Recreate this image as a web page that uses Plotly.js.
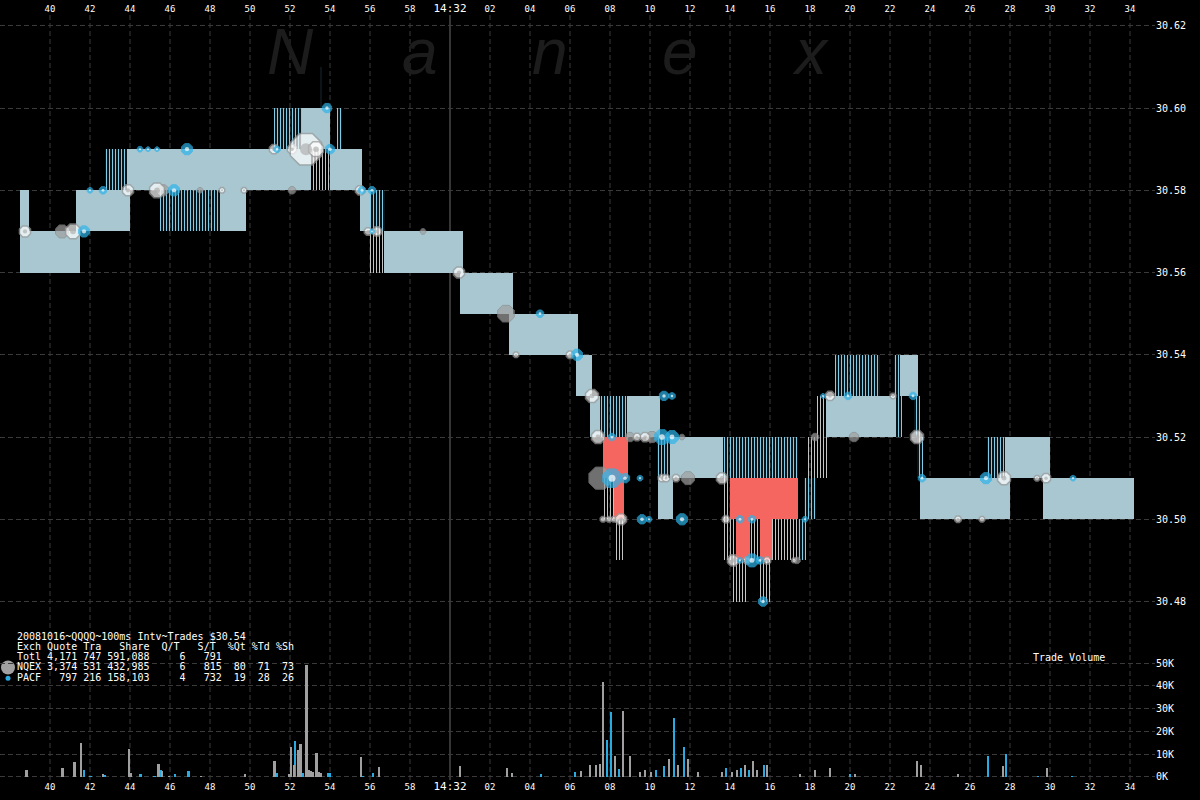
<!DOCTYPE html>
<html><head><meta charset="utf-8">
<script src="https://cdn.plot.ly/plotly-3.0.1.min.js"></script>
<style>html,body{margin:0;padding:0;background:#000;}#chart{width:1200px;height:800px;}</style>
</head><body><div id="chart"></div>
<script>
// ---- time axis (seconds after 14:31:00) ----
const tickVals = [40,42,44,46,48,50,52,54,56,58,60,62,64,66,68,70,72,74,76,78,80,82,84,86,88,90,92,94];
const tickText = ['40','42','44','46','48','50','52','54','56','58','14:32','02','04','06','08','10','12','14','16','18','20','22','24','26','28','30','32','34'];
const minuteMark = 60;
const priceTicks = [30.48,30.50,30.52,30.54,30.56,30.58,30.60,30.62];
const volTicks = [0,10000,20000,30000,40000,50000];
const volTickText = ['0K','10K','20K','30K','40K','50K'];

// ---- quote bands: start, end, low, high, kind (S solid, B blue stripes, G grey stripes, R red/crossed) ----
const qStart = [38.5,38.5,41.3,42.75,43.85,54.0,53.05,45.5,48.5,51.2,52.6,54.35,53.5,55.5,56.0,55.9,56.7,60.5,62.95,66.3,67.0,67.5,68.85,67.65,67.6,68.2,68.2,70.35,70.4,71.0,73.65,73.65,73.65,74.0,74.3,75.0,75.5,76.1,74.15,75.5,77.4,77.7,77.9,78.3,78.8,82.3,79.25,82.2,82.5,83.2,83.35,83.5,86.85,87.75,89.65];
const qEnd   = [38.95,41.5,44.0,43.85,53.05,55.6,54.0,48.5,49.8,52.6,54.0,54.6,53.6,56.0,56.75,56.7,60.65,63.15,66.4,67.1,67.5,68.85,70.5,68.9,68.2,68.7,68.65,71.0,71.15,73.65,77.4,74.0,74.3,77.4,75.0,75.5,76.1,77.4,74.9,76.05,77.8,78.3,78.85,78.8,82.3,82.6,81.5,82.5,83.4,83.5,83.65,88.0,87.75,90.0,94.2];
const qLow   = [30.57,30.56,30.57,30.58,30.58,30.58,30.58,30.57,30.57,30.59,30.59,30.59,30.60,30.57,30.57,30.56,30.56,30.55,30.54,30.53,30.52,30.52,30.52,30.51,30.50,30.50,30.49,30.51,30.50,30.51,30.51,30.50,30.49,30.50,30.49,30.49,30.49,30.49,30.48,30.48,30.49,30.50,30.51,30.52,30.52,30.52,30.53,30.53,30.53,30.52,30.51,30.50,30.51,30.51,30.50];
const qHigh  = [30.58,30.57,30.58,30.59,30.59,30.59,30.59,30.58,30.58,30.60,30.60,30.60,30.61,30.58,30.58,30.57,30.57,30.56,30.55,30.54,30.53,30.53,30.53,30.52,30.51,30.51,30.50,30.52,30.51,30.52,30.52,30.51,30.50,30.51,30.50,30.50,30.50,30.50,30.49,30.49,30.50,30.51,30.52,30.53,30.53,30.53,30.54,30.54,30.54,30.53,30.52,30.51,30.52,30.52,30.51];
const qKind  = ['S','S','S','B','S','S','G','B','S','B','S','B','B','S','B','G','S','S','S','S','S','B','S','R','G','R','G','B','S','S','B','G','G','R','R','G','R','G','G','G','B','B','G','G','S','B','B','B','S','B','B','S','B','S','S'];

// ---- trades: time, price, marker size, exchange (N NQEX grey, P PACF blue, O other white) ----
const trT = [38.75,40.6,41.15,41.7, 42.0,42.65,43.9,45.35,45.65,46.2,47.5,48.6,49.7,52.1,55.5,55.6,56.1, 44.5,44.9,45.35,46.85,51.2,51.35,52.1,52.8,53.3,54.0, 53.85, 55.9,56.1,56.35,58.65, 60.45, 62.8,64.5, 63.3,66.0,66.35, 67.1, 67.4,68.1,69.0,69.35,69.75,70.1,70.6,71.1,71.6, 70.7,71.1, 67.5,68.1,68.75,69.5,70.6,70.8,71.3,71.9,73.6, 67.65,67.95,68.2,68.55,69.6,69.95,71.6,73.8,74.5,75.1,77.75, 74.15,74.5,74.85,75.1,75.5,75.85,77.2,77.35, 75.65, 78.25,80.2,83.35, 78.65,79.0,79.9,82.15,83.15, 83.6,86.8,87.7,89.35,89.8,91.15, 85.4,86.6];
const trP = [30.57,30.57,30.57,30.57, 30.58,30.58,30.58,30.58,30.58,30.58,30.58,30.58,30.58,30.58,30.58,30.58,30.58, 30.59,30.59,30.59,30.59,30.59,30.59,30.59,30.59,30.59,30.59, 30.60, 30.57,30.57,30.57,30.57, 30.56, 30.55,30.55, 30.54,30.54,30.54, 30.53, 30.52,30.52,30.52,30.52,30.52,30.52,30.52,30.52,30.52, 30.53,30.53, 30.51,30.51,30.51,30.51,30.51,30.51,30.51,30.51,30.51, 30.50,30.50,30.50,30.50,30.50,30.50,30.50,30.50,30.50,30.50,30.50, 30.49,30.49,30.49,30.49,30.49,30.49,30.49,30.49, 30.48, 30.52,30.52,30.52, 30.53,30.53,30.53,30.53,30.53, 30.51,30.51,30.51,30.51,30.51,30.51, 30.50,30.50];
const trS = [12,14,16,12, 6,8,12,16,12,12,6,6,6,8,10,8,8, 6,5,5,12,10,7,10,34,16,10, 10, 8,5,10,6, 12, 18,8, 6,8,12, 14, 14,8,10,8,10,12,16,14,6, 10,7, 24,20,10,6,8,8,8,14,12, 6,6,6,12,10,6,12,8,8,8,6, 12,6,8,14,8,8,5,7, 10, 8,10,14, 5,10,8,6,8, 8,12,14,6,10,6, 7,6];
const trX = ['O','N','O','P', 'P','P','O','O','N','P','N','O','O','N','O','P','P', 'P','P','P','P','O','P','O','O','O','P', 'P', 'O','P','O','N', 'O', 'N','P', 'O','O','P', 'O', 'O','P','N','O','O','N','P','P','N', 'P','P', 'N','P','P','P','O','O','O','N','O', 'O','O','O','O','P','P','P','O','P','P','P', 'O','P','O','P','P','O','O','N', 'P', 'N','N','O', 'P','O','P','O','P', 'P','P','O','O','O','P', 'O','O'];

// ---- trade volume per 100ms interval ----
const vNT = [38.83,40.63,41.23,41.55,42.65,43.95,44.05,45.43,45.6,45.95,47.55,49.75,51.23,51.95,52.05,52.2,52.42,52.53,52.82,52.92,53.03,53.13,53.33,53.45,53.55,55.55,56.45, 60.5,62.85,63.1,66.55,67.0,67.3,67.5,67.65,68.25,68.65,69.0,69.5,69.75,70.05,70.95,71.4,71.9,72.4,73.6,74.1,74.35,74.75,75.15,75.35,75.85,77.5,78.25,79.0,80.25,83.35,83.55,85.4,87.65,89.85];
const vNV = [3000,3800,6300,14700,1000,12200,1500,5600,2300,300,300,1000,6900,1200,13200,5000,11800,14400,49200,3000,2500,2000,10300,2000,1500,8500,4400, 4500,4000,1500,2500,5000,5000,5500,41500,9000,29000,9000,2000,3000,2000,8000,5000,8000,2000,2000,2000,3000,5000,7000,3000,5000,1000,3000,4000,1000,7000,5000,1000,4500,4000];
const vPT = [41.7,42.03,42.73,44.52,45.23,45.53,46.25,46.93,51.33,52.25,52.62,53.92,54.0,55.63,56.15, 64.55,66.25,67.85,68.05,68.45,70.05,70.3,70.7,71.2,71.7,73.8,74.55,74.95,75.7,79.0,80.0,86.9,87.8,89.4,91.1];
const vPV = [2800,500,800,1000,500,3000,1200,2600,1500,15700,1500,1800,1500,300,1500, 1000,2000,16000,28500,3500,1000,3000,4500,26000,13000,4000,4000,3000,5000,1000,1000,9000,10000,500,500];

// ---- text ----
const headerLines = [
  '20081016~QQQQ~100ms Intv~Trades $30.54',
  'Exch Quote Tra   Share  Q/T   S/T  %Qt %Td %Sh',
  'Totl 4,171 747 591,088     6   791',
  'NQEX 3,374 531 432,985     6   815  80  71  73',
  'PACF   797 216 158,103     4   732  19  28  26'
];
const watermark = ['N','a','n','e','x'];
const volumeTitle = 'Trade Volume';
const legendExch = ['NQEX','PACF'];

// ================= build =================
const MONO = '"DejaVu Sans Mono", "Liberation Mono", monospace';
const GRID = '#3a3a3a';
const XR = [37.5, 95.25];

const kindStyle = {
  S: {color:'#c2c2c2', pattern:{shape:'|', fgcolor:'#8ccade', bgcolor:'#c4c4c4', size:2, solidity:0.5}},
  B: {color:'rgba(0,0,0,0)', pattern:{shape:'|', fgcolor:'#80cbe6', bgcolor:'rgba(0,0,0,0)', size:3, solidity:0.4}},
  G: {color:'rgba(0,0,0,0)', pattern:{shape:'|', fgcolor:'#c4c4c4', bgcolor:'rgba(0,0,0,0)', size:3, solidity:0.34}},
  R: {color:'#f4665f'}
};
const traces = [];
// vertical time grid across both panels (helper full-height axes)
const gx=[], gy=[];
tickVals.forEach(v => { if (v!==minuteMark) { gx.push(v,v,null); gy.push(0,1,null); } });
traces.push({x:gx, y:gy, xaxis:'x', yaxis:'y', mode:'lines', line:{color:GRID, width:1, dash:'5px,3px'},
  hoverinfo:'skip', showlegend:false, connectgaps:false});
traces.push({x:[minuteMark, minuteMark], y:[0,1], xaxis:'x', yaxis:'y', mode:'lines',
  line:{color:'#5a5a5a', width:1.2}, hoverinfo:'skip', showlegend:false});
traces.push({x:[37.9], y:[0.147], xaxis:'x', yaxis:'y', mode:'markers', name:legendExch[0],
  marker:{color:'#a0a0a0', size:14, line:{width:0}}, cliponaxis:false, showlegend:false});
traces.push({x:[37.9], y:[0.133], xaxis:'x', yaxis:'y', mode:'markers', name:legendExch[1],
  marker:{color:'#29abe2', size:5, line:{width:0}}, cliponaxis:false, showlegend:false});

['S','B','G','R'].forEach(k => {
  const xs=[], ws=[], bs=[], hs=[];
  qKind.forEach((kk,i) => { if (kk===k) {
    xs.push((qStart[i]+qEnd[i])/2); ws.push(qEnd[i]-qStart[i]);
    bs.push(qLow[i]); hs.push(+(qHigh[i]-qLow[i]).toFixed(4));
  }});
  const st = kindStyle[k];
  const m = {color:st.color, line:{width:0}};
  if (st.pattern) m.pattern = st.pattern;
  traces.push({type:'bar', x:xs, y:hs, base:bs, width:ws, xaxis:'x2', yaxis:'y2',
    marker:m, hoverinfo:'skip', showlegend:false});
});

const exStyle = {
  O:{color:'#ffffff', line:{color:'#9a9a9a', width:1.5}},
  N:{color:'#a0a0a0', line:{color:'#8a8a8a', width:1}},
  P:{color:'#2db4ea', line:{color:'#2db4ea', width:1}}
};
['N','O','P'].forEach(k => {
  const xs=[], ys=[], ss=[];
  trX.forEach((e,i)=>{ if(e===k){ xs.push(trT[i]); ys.push(trP[i]); ss.push(trS[i]); }});
  traces.push({type:'scatter', mode:'markers', x:xs, y:ys, xaxis:'x2', yaxis:'y2',
    marker:{symbol:'octagon', size:ss, color:exStyle[k].color, line:exStyle[k].line},
    hoverinfo:'skip', showlegend:false});
  if (k!=='N') {
    traces.push({type:'scatter', mode:'markers', x:xs, y:ys, xaxis:'x2', yaxis:'y2',
      marker:{symbol:'circle', size:ss.map(s=>Math.max(2, s*0.35)), color: k==='P' ? '#ffffff' : '#b0b0b0', line:{width:0}},
      hoverinfo:'skip', showlegend:false});
  }
});

traces.push({type:'bar', x:vPT, y:vPV, width:0.14, xaxis:'x3', yaxis:'y3',
  marker:{color:'#29abe2', line:{width:0}}, hoverinfo:'skip', showlegend:false});
traces.push({type:'bar', x:vNT, y:vNV, width:0.14, xaxis:'x3', yaxis:'y3',
  marker:{color:'#a0a0a0', line:{width:0}}, hoverinfo:'skip', showlegend:false});

const W = 1200, H = 800, ML = 0, MR = 45, MT = 15, MB = 20;
const PW = W-ML-MR, PH = H-MT-MB;
const px = x => (x-ML)/PW;
const py = y => (H-MB-y)/PH;

const annotations = [];
headerLines.forEach((t,i) => annotations.push({
  xref:'paper', yref:'paper', x:px(15), y:py(636+i*10.3), xanchor:'left', yanchor:'middle',
  text:t.replace(/ /g,'\u00a0'), showarrow:false, font:{family:MONO, size:10, color:'#ffffff'}
}));
annotations.push({xref:'paper', yref:'paper', x:px(1031), y:py(657), xanchor:'left', yanchor:'middle',
  text:volumeTitle, showarrow:false, font:{family:MONO, size:10, color:'#ffffff'}});
watermark.forEach((c,i) => annotations.push({
  xref:'paper', yref:'paper', x:px(290+i*130), y:py(52), xanchor:'center', yanchor:'middle',
  text:c, showarrow:false, font:{family:'"Liberation Sans", Arial, sans-serif', size:64, color:'#1c1c1c', style:'italic'}
}));

const tickTextTop = tickText.map(t => t.indexOf(':')>0 ? '<span style="font-size:11px">'+t+'</span>' : t);
const noGrid = {showgrid:false, zeroline:false, showline:false};

const layout = {
  width:W, height:H, margin:{l:ML, r:MR, t:MT, b:MB, pad:0},
  paper_bgcolor:'#000000', plot_bgcolor:'rgba(0,0,0,0)',
  barmode:'overlay', showlegend:false, bargap:0,
  font:{family:MONO, color:'#ffffff'},
  xaxis:Object.assign({domain:[0,1], range:XR, anchor:'y', visible:false, fixedrange:true}, noGrid),
  yaxis:Object.assign({domain:[0,1], range:[0,1], visible:false, fixedrange:true}, noGrid),
  xaxis2:Object.assign({domain:[0,1], range:XR, anchor:'y2', side:'top', tickmode:'array', tickvals:tickVals, ticktext:tickTextTop,
    tickfont:{family:MONO, size:9, color:'#ffffff'}, ticks:''}, noGrid),
  yaxis2:{domain:[py(620), 1], range:[30.47551, 30.62263], anchor:'x2', side:'right', tickmode:'array',
    tickvals:priceTicks, ticktext:priceTicks.map(v=>v.toFixed(2)), tickfont:{family:MONO, size:10, color:'#ffffff'},
    ticks:'', showgrid:true, gridcolor:GRID, griddash:'5px,3px', zeroline:false, showline:false},
  xaxis3:Object.assign({domain:[0,1], range:XR, anchor:'y3', side:'bottom', tickmode:'array', tickvals:tickVals, ticktext:tickTextTop,
    tickfont:{family:MONO, size:9, color:'#ffffff'}, ticks:''}, noGrid),
  yaxis3:{domain:[0, py(650)], range:[-1450, 55800], anchor:'x3', side:'right', tickmode:'array',
    tickvals:volTicks, ticktext:volTickText, tickfont:{family:MONO, size:10, color:'#ffffff'},
    ticks:'', showgrid:true, gridcolor:GRID, griddash:'5px,3px', zeroline:false, showline:false},
  annotations: annotations
};
Plotly.newPlot('chart', traces, layout, {displayModeBar:false, staticPlot:true});
</script></body></html>
